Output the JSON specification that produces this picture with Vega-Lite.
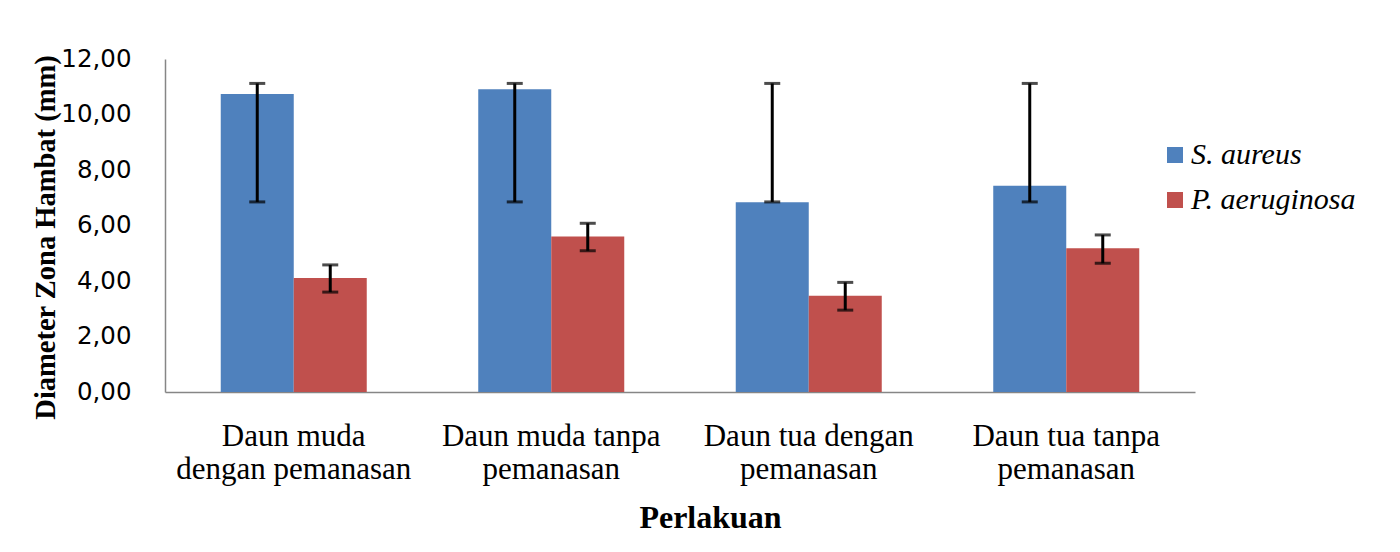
{
  "$schema": "https://vega.github.io/schema/vega-lite/v6.json",
  "autosize": {"type": "none"},
  "width": 1030,
  "height": 333,
  "padding": {"left": 165, "top": 59, "right": 205, "bottom": 160},
  "background": "white",
  "config": {"view": {"stroke": null}},
  "data": {
    "values": [
      {"Perlakuan": "Daun muda dengan pemanasan", "Bakteri": "S. aureus", "Diameter": 10.74, "Lower": 6.85, "Upper": 11.12},
      {"Perlakuan": "Daun muda dengan pemanasan", "Bakteri": "P. aeruginosa", "Diameter": 4.11, "Lower": 3.6, "Upper": 4.58},
      {"Perlakuan": "Daun muda tanpa pemanasan", "Bakteri": "S. aureus", "Diameter": 10.91, "Lower": 6.85, "Upper": 11.12},
      {"Perlakuan": "Daun muda tanpa pemanasan", "Bakteri": "P. aeruginosa", "Diameter": 5.6, "Lower": 5.09, "Upper": 6.08},
      {"Perlakuan": "Daun tua dengan pemanasan", "Bakteri": "S. aureus", "Diameter": 6.84, "Lower": 6.85, "Upper": 11.12},
      {"Perlakuan": "Daun tua dengan pemanasan", "Bakteri": "P. aeruginosa", "Diameter": 3.47, "Lower": 2.95, "Upper": 3.95},
      {"Perlakuan": "Daun tua tanpa pemanasan", "Bakteri": "S. aureus", "Diameter": 7.43, "Lower": 6.85, "Upper": 11.12},
      {"Perlakuan": "Daun tua tanpa pemanasan", "Bakteri": "P. aeruginosa", "Diameter": 5.18, "Lower": 4.64, "Upper": 5.66}
    ]
  },
  "encoding": {
    "x": {
      "field": "Perlakuan",
      "type": "nominal",
      "sort": null,
      "scale": {"paddingInner": 0.433, "paddingOuter": 0.2165},
      "axis": {
        "labelAngle": 0,
        "labelFont": "Liberation Serif",
        "labelFontSize": 31,
        "labelLineHeight": 33,
        "labelPadding": 29,
        "labelColor": "black",
        "labelLimit": 0,
        "labelOverlap": false,
        "labelExpr": "datum.label == 'Daun muda dengan pemanasan' ? ['Daun muda', 'dengan pemanasan'] : datum.label == 'Daun muda tanpa pemanasan' ? ['Daun muda tanpa', 'pemanasan'] : datum.label == 'Daun tua dengan pemanasan' ? ['Daun tua dengan', 'pemanasan'] : ['Daun tua tanpa', 'pemanasan']",
        "ticks": false,
        "domainColor": "#868686",
        "domainWidth": 1.5,
        "title": "Perlakuan",
        "titleFont": "Liberation Serif",
        "titleFontWeight": "bold",
        "titleFontSize": 32,
        "titleColor": "black",
        "titleX": 545,
        "titleY": 135,
        "titleBaseline": "alphabetic"
      }
    },
    "xOffset": {"field": "Bakteri", "type": "nominal", "sort": ["S. aureus", "P. aeruginosa"], "scale": {"paddingInner": 0, "paddingOuter": 0}}
  },
  "layer": [
    {
      "mark": {"type": "bar"},
      "encoding": {
        "y": {
          "field": "Diameter",
          "type": "quantitative",
          "scale": {"domain": [0, 12], "nice": false},
          "axis": {
            "title": "Diameter Zona Hambat (mm)",
            "titleFont": "Liberation Serif",
            "titleFontWeight": "bold",
            "titleFontSize": 28.5,
            "titleColor": "black",
            "titleX": -111,
            "titleY": 178,
            "titleAngle": -90,
            "titleBaseline": "alphabetic",
            "titleAlign": "center",
            "values": [0, 2, 4, 6, 8, 10, 12],
            "labelExpr": "replace(format(datum.value, '.2f'), '.', ',')",
            "labelFont": "DejaVu Sans",
            "labelFontSize": 24.5,
            "labelColor": "black",
            "labelPadding": 34,
            "ticks": false,
            "grid": false,
            "domainColor": "#868686",
            "domainWidth": 1.5
          }
        },
        "color": {
          "field": "Bakteri",
          "type": "nominal",
          "sort": ["S. aureus", "P. aeruginosa"],
          "scale": {"domain": ["S. aureus", "P. aeruginosa"], "range": ["#4F81BD", "#C0504D"]},
          "legend": {
            "orient": "none",
            "legendX": 995,
            "legendY": 81,
            "title": null,
            "symbolType": "square",
            "symbolSize": 256,
            "symbolStrokeWidth": 0,
            "labelFont": "Liberation Serif",
            "labelFontStyle": "italic",
            "labelFontSize": 30,
            "labelColor": "black",
            "labelLimit": 0,
            "labelOffset": 1,
            "rowPadding": 15,
            "padding": 0
          }
        }
      }
    },
    {
      "mark": {"type": "rule", "strokeWidth": 3, "color": "black"},
      "encoding": {
        "y": {"field": "Lower", "type": "quantitative", "title": "Diameter Zona Hambat (mm)"},
        "y2": {"field": "Upper"}
      }
    },
    {
      "mark": {"type": "tick", "thickness": 3, "size": 16, "color": "black"},
      "encoding": {
        "y": {"field": "Lower", "type": "quantitative", "title": "Diameter Zona Hambat (mm)"}
      }
    },
    {
      "mark": {"type": "tick", "thickness": 3, "size": 16, "color": "black"},
      "encoding": {
        "y": {"field": "Upper", "type": "quantitative", "title": "Diameter Zona Hambat (mm)"}
      }
    }
  ]
}
